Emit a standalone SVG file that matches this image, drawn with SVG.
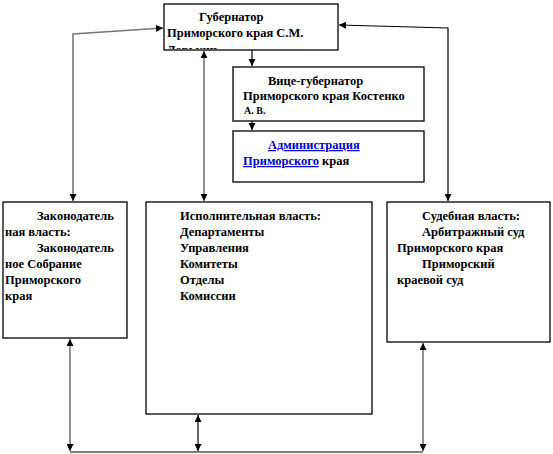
<svg xmlns="http://www.w3.org/2000/svg" width="553" height="454" viewBox="0 0 553 454">
<style>
.box{fill:#fff;stroke:#000;stroke-width:1.3}
.t{font-family:"Liberation Serif","Times New Roman",serif;font-weight:bold;font-size:12.5px;fill:#000}
.lnk{fill:#0000cc;text-decoration:underline}
.c{fill:none;stroke:#000;stroke-width:1.2}
.g{stroke:#777;stroke-width:1.6}
</style>
<defs>
<marker id="ah" viewBox="0 0 10 10" refX="10" refY="5" markerWidth="7" markerHeight="7" markerUnits="userSpaceOnUse" orient="auto-start-reverse">
<path d="M0,0 L10,5 L0,10 z" fill="#000"/>
</marker>
<clipPath id="cg"><rect x="164" y="4" width="174" height="45"/></clipPath>
</defs>
<g id="connectors">
<polyline class="c g" points="73,201 73,34 163,28" marker-start="url(#ah)" marker-end="url(#ah)"/>
<polyline class="c" points="448,201 448,28 339,25" marker-start="url(#ah)" marker-end="url(#ah)"/>
<line class="c g" x1="204" y1="51" x2="204" y2="201" marker-start="url(#ah)" marker-end="url(#ah)"/>
<line class="c" x1="252" y1="50" x2="252" y2="66" marker-end="url(#ah)"/>
<line class="c" x1="252" y1="121" x2="252" y2="130" marker-end="url(#ah)"/>
<line class="c" x1="70" y1="452" x2="423" y2="452"/>
<line class="c g" x1="70" y1="339" x2="70" y2="451" marker-start="url(#ah)" marker-end="url(#ah)"/>
<line class="c" x1="198" y1="415" x2="198" y2="451" marker-start="url(#ah)" marker-end="url(#ah)"/>
<line class="c g" x1="423" y1="343" x2="423" y2="451" marker-start="url(#ah)" marker-end="url(#ah)"/>
</g>
<g id="governor">
<rect class="box" x="164" y="4" width="174" height="46"/>
<text class="t" x="199" y="21">Губернатор</text>
<text class="t" x="167" y="37">Приморского края С.М.</text>
<text class="t" x="167" y="54" clip-path="url(#cg)">Дарькин</text>
</g>
<g id="vice-governor">
<rect class="box" x="233" y="67" width="191" height="54"/>
<text class="t" x="268" y="85">Вице-губернатор</text>
<text class="t" x="243" y="100">Приморского края Костенко</text>
<text class="t" x="244" y="114" style="font-size:10px">А. В.</text>
</g>
<g id="administration">
<rect class="box" x="233" y="131" width="191" height="51"/>
<text class="t lnk" x="268" y="149">Администрация</text>
<text class="t" x="243" y="165"><tspan class="lnk">Приморского</tspan> края</text>
</g>
<g id="legislative">
<rect class="box" x="3" y="202" width="124" height="136"/>
<text class="t" x="37" y="220">Законодатель</text>
<text class="t" x="5" y="236">ная власть:</text>
<text class="t" x="37" y="252">Законодатель</text>
<text class="t" x="5" y="268">ное Собрание</text>
<text class="t" x="5" y="284">Приморского</text>
<text class="t" x="5" y="300">края</text>
</g>
<g id="executive">
<rect class="box" x="146" y="202" width="226" height="212"/>
<text class="t" x="180" y="220">Исполнительная власть:</text>
<text class="t" x="180" y="236">Департаменты</text>
<text class="t" x="180" y="252">Управления</text>
<text class="t" x="180" y="268">Комитеты</text>
<text class="t" x="180" y="284">Отделы</text>
<text class="t" x="180" y="300">Комиссии</text>
</g>
<g id="judicial">
<rect class="box" x="387" y="202" width="163" height="140"/>
<text class="t" x="422" y="220">Судебная власть:</text>
<text class="t" x="422" y="236">Арбитражный суд</text>
<text class="t" x="397" y="252">Приморского края</text>
<text class="t" x="422" y="268">Приморский</text>
<text class="t" x="397" y="284">краевой суд</text>
</g>
</svg>
